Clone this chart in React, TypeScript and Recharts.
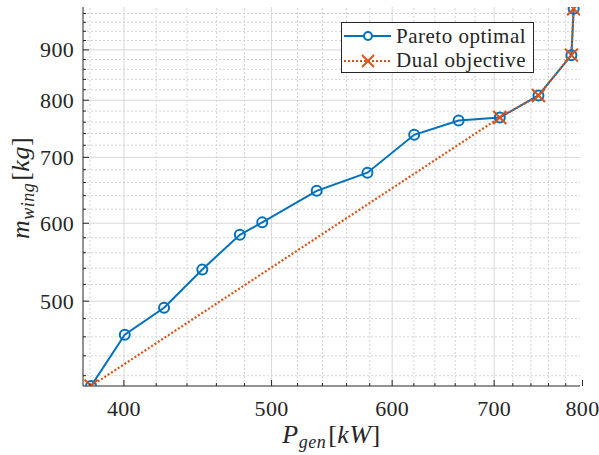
import React from 'react';
import { LineChart, Line, XAxis, YAxis, ReferenceLine, Legend } from 'recharts';

const paretoX = [380.6, 400.5, 425.0, 450.3, 476.6, 493.0, 535.3, 578.0, 620.3, 663.4, 706.0, 748.5, 786.7, 789.4];
const paretoY = [410.0, 462.2, 492.3, 538.5, 584.0, 601.2, 647.2, 675.3, 737.8, 762.8, 768.3, 809.0, 889.0, 991.0];

const dualX = [380.6, 706.0, 748.5, 786.7, 789.4];
const dualY = [410.0, 768.3, 809.0, 889.0, 991.0];

const xMajorTicks = [400, 500, 600, 700, 800];
const xMinorTicks = [380, 420, 440, 460, 480, 520, 540, 560, 580, 620, 640, 660, 680, 720, 740, 760, 780];
const yMajorTicks = [500, 600, 700, 800, 900];
const yMinorTicks = [420, 440, 460, 480, 520, 540, 560, 580, 620, 640, 660, 680, 720, 740, 760, 780, 820, 840, 860, 880, 920, 940, 960, 980];

const xDomain = [376, 797];
const yDomain = [410, 995];

const seriesNames = ['Pareto optimal', 'Dual objective'];

const BLUE = '#0072BD';
const ORANGE = '#D95319';
const AXIS = '#262626';
const FONT = "'Liberation Serif', 'Times New Roman', Times, serif";

const paretoData = paretoX.map((x, i) => ({ x, y: paretoY[i] }));
const dualData = dualX.map((x, i) => ({ x, y: dualY[i] }));

const allXTicks = [...xMajorTicks, ...xMinorTicks].sort((a, b) => a - b);
const allYTicks = [...yMajorTicks, ...yMinorTicks].sort((a, b) => a - b);

const BottomTick = (props: any) => {
  const { x, y, payload } = props;
  const major = xMajorTicks.includes(payload.value);
  return (
    <g>
      <line x1={x} y1={y} x2={x} y2={y - (major ? 6 : 3)} stroke={AXIS} strokeWidth={1} />
      {major && (
        <text x={x} y={y + 30} textAnchor="middle" style={{ fontFamily: FONT, fontSize: 22, letterSpacing: 0.3 }} fill={AXIS}>
          {payload.value}
        </text>
      )}
    </g>
  );
};

const TopTick = (props: any) => {
  const { x, y, payload } = props;
  const major = xMajorTicks.includes(payload.value);
  return <line x1={x} y1={y} x2={x} y2={y + (major ? 6 : 3)} stroke={AXIS} strokeWidth={1} />;
};

const LeftTick = (props: any) => {
  const { x, y, payload } = props;
  const major = yMajorTicks.includes(payload.value);
  return (
    <g>
      <line x1={x} y1={y} x2={x + (major ? 6 : 3)} y2={y} stroke={AXIS} strokeWidth={1} />
      {major && (
        <text x={x - 9} y={y + 7.5} textAnchor="end" style={{ fontFamily: FONT, fontSize: 22, letterSpacing: 0.3 }} fill={AXIS}>
          {payload.value}
        </text>
      )}
    </g>
  );
};

const RightTick = (props: any) => {
  const { x, y, payload } = props;
  const major = yMajorTicks.includes(payload.value);
  return <line x1={x} y1={y} x2={x - (major ? 6 : 3)} y2={y} stroke={AXIS} strokeWidth={1} />;
};

const CircleDot = (props: any) => {
  const { cx, cy, index } = props;
  if (cx == null || cy == null) return <g key={index} />;
  return <circle key={index} cx={cx} cy={cy} r={5} fill="none" stroke={BLUE} strokeWidth={2} />;
};

const CrossDot = (props: any) => {
  const { cx, cy, index } = props;
  if (cx == null || cy == null) return <g key={index} />;
  const s = 6.5;
  return (
    <g key={index}>
      <line x1={cx - s} y1={cy - s} x2={cx + s} y2={cy + s} stroke={ORANGE} strokeWidth={2} />
      <line x1={cx - s} y1={cy + s} x2={cx + s} y2={cy - s} stroke={ORANGE} strokeWidth={2} />
    </g>
  );
};

const XLabel = (props: any) => {
  const vb = props.viewBox || { x: 83, y: 386, width: 497, height: 69 };
  const cx = vb.x + vb.width / 2;
  const cy = vb.y + 57;
  return (
    <text x={cx} y={cy} textAnchor="middle" style={{ fontFamily: FONT, fontSize: 26, letterSpacing: 0.5 }} fill={AXIS}>
      <tspan fontStyle="italic">P</tspan>
      <tspan fontStyle="italic" fontSize={18} dy={5}>gen</tspan>
      <tspan dy={-5} dx={2}>[</tspan>
      <tspan fontStyle="italic">kW</tspan>
      <tspan>]</tspan>
    </text>
  );
};

const YLabel = (props: any) => {
  const vb = props.viewBox || { x: 0, y: 7, width: 83, height: 379 };
  const cx = 29;
  const cy = vb.y + vb.height / 2 - 8.5;
  return (
    <text x={cx} y={cy} textAnchor="middle" style={{ fontFamily: FONT, fontSize: 26, letterSpacing: 0.5 }} fill={AXIS} transform={`rotate(-90, ${cx}, ${cy})`}>
      <tspan fontStyle="italic">m</tspan>
      <tspan fontStyle="italic" fontSize={18} dy={5}>wing</tspan>
      <tspan dy={-5} dx={2}>[</tspan>
      <tspan fontStyle="italic">kg</tspan>
      <tspan>]</tspan>
    </text>
  );
};

const LegendContent = () => (
  <div
    style={{
      width: 191,
      height: 49,
      background: '#fff',
      border: `1px solid ${AXIS}`,
      fontFamily: FONT,
      fontSize: 21,
      letterSpacing: 0.5,
      color: AXIS,
      boxSizing: 'content-box',
      lineHeight: 1,
    }}
  >
    {seriesNames.map((name, i) => (
      <div key={name} style={{ display: 'flex', alignItems: 'center', height: i === 0 ? 24 : 25, marginTop: i === 0 ? 1 : 0 }}>
        <svg width={52} height={20} style={{ marginLeft: 1, flex: 'none' }}>
          {i === 0 ? (
            <g>
              <line x1={1} y1={10} x2={48} y2={10} stroke={BLUE} strokeWidth={2} />
              <circle cx={25} cy={10} r={4} fill="#fff" stroke={BLUE} strokeWidth={2} />
            </g>
          ) : (
            <g>
              <line x1={1} y1={10} x2={48} y2={10} stroke={ORANGE} strokeWidth={2} strokeDasharray="2 2" />
              <line x1={19} y1={4} x2={31} y2={16} stroke={ORANGE} strokeWidth={2} />
              <line x1={19} y1={16} x2={31} y2={4} stroke={ORANGE} strokeWidth={2} />
            </g>
          )}
        </svg>
        <span style={{ marginLeft: 1, whiteSpace: 'nowrap' }}>{name}</span>
      </div>
    ))}
  </div>
);

export default function App() {
  return (
    <div style={{ position: 'absolute', left: 0, top: 0, width: 599, height: 455, background: '#fff' }}>
      <LineChart width={599} height={455} margin={{ top: 7, right: 19, bottom: 0, left: 0 }}>
        {xMinorTicks.map((v) => (
          <ReferenceLine key={`xm${v}`} x={v} stroke="#d4d4d4" strokeWidth={1} strokeDasharray="2 2" />
        ))}
        {yMinorTicks.map((v) => (
          <ReferenceLine key={`ym${v}`} y={v} stroke="#d4d4d4" strokeWidth={1} strokeDasharray="2 2" />
        ))}
        {xMajorTicks.map((v) => (
          <ReferenceLine key={`xM${v}`} x={v} stroke="#d8d8d8" strokeWidth={1} />
        ))}
        {yMajorTicks.map((v) => (
          <ReferenceLine key={`yM${v}`} y={v} stroke="#d8d8d8" strokeWidth={1} />
        ))}
        <XAxis
          dataKey="x"
          type="number"
          scale="log"
          domain={xDomain}
          allowDataOverflow
          ticks={allXTicks}
          interval={0}
          tickSize={0}
          tickMargin={0}
          tick={<BottomTick />}
          height={69}
          axisLine={{ stroke: AXIS, strokeWidth: 1 }}
          label={<XLabel />}
        />
        <XAxis
          xAxisId="top"
          orientation="top"
          dataKey="x"
          type="number"
          scale="log"
          domain={xDomain}
          allowDataOverflow
          ticks={allXTicks}
          interval={0}
          tickSize={0}
          tickMargin={0}
          tick={<TopTick />}
          height={0}
          axisLine={{ stroke: AXIS, strokeWidth: 1 }}
        />
        <YAxis
          dataKey="y"
          type="number"
          scale="log"
          domain={yDomain}
          allowDataOverflow
          ticks={allYTicks}
          interval={0}
          tickSize={0}
          tickMargin={0}
          tick={<LeftTick />}
          width={83}
          axisLine={{ stroke: AXIS, strokeWidth: 1 }}
          label={<YLabel />}
        />
        <YAxis
          yAxisId="right"
          orientation="right"
          dataKey="y"
          type="number"
          scale="log"
          domain={yDomain}
          allowDataOverflow
          ticks={allYTicks}
          interval={0}
          tickSize={0}
          tickMargin={0}
          tick={<RightTick />}
          width={0}
          axisLine={{ stroke: AXIS, strokeWidth: 1 }}
        />
        <Line
          data={paretoData}
          dataKey="y"
          name={seriesNames[0]}
          type="linear"
          stroke={BLUE}
          strokeWidth={2}
          dot={<CircleDot />}
          activeDot={false}
          isAnimationActive={false}
        />
        <Line
          data={dualData}
          dataKey="y"
          name={seriesNames[1]}
          type="linear"
          stroke={ORANGE}
          strokeWidth={2.2}
          strokeDasharray="2 2"
          dot={<CrossDot />}
          activeDot={false}
          isAnimationActive={false}
        />
        <Legend
          layout="vertical"
          align="center"
          verticalAlign="middle"
          content={<LegendContent />}
          wrapperStyle={{ position: 'absolute', left: 341, top: 22, width: 193, height: 51, margin: 0, padding: 0 }}
        />
      </LineChart>
    </div>
  );
}
